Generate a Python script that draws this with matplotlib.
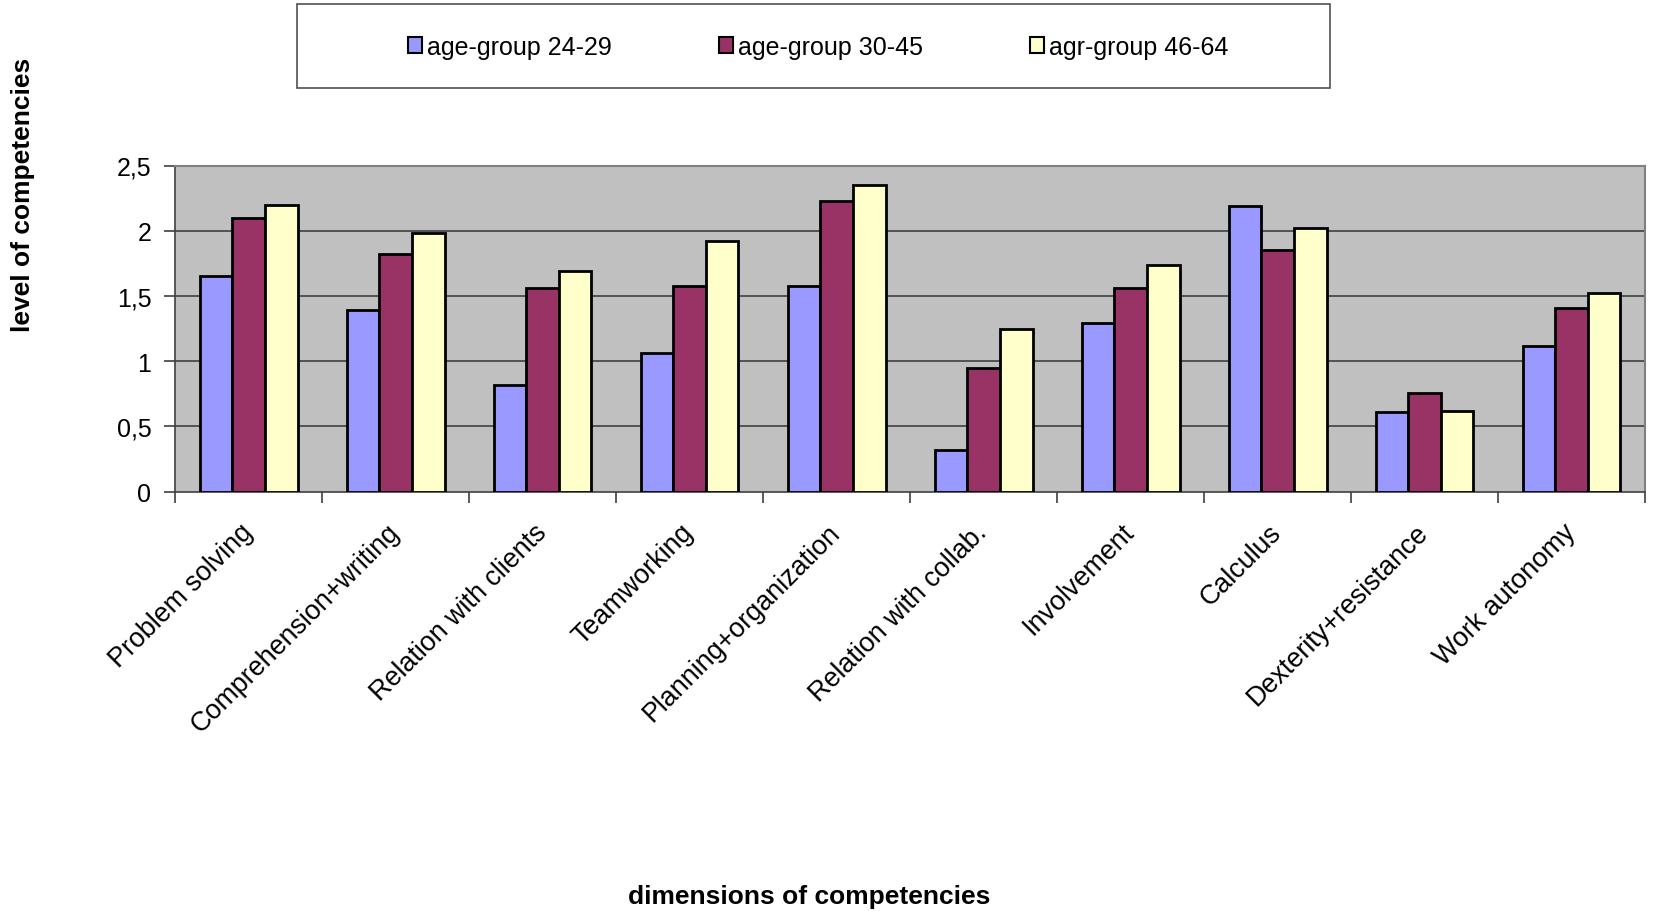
import matplotlib
matplotlib.use("Agg")
import matplotlib.pyplot as plt
from matplotlib.patches import Rectangle
from matplotlib.transforms import ScaledTranslation
import numpy as np

plt.rcParams['font.family'] = ['Liberation Sans', 'DejaVu Sans']

categories = ["Problem solving", "Comprehension+writing", "Relation with clients",
              "Teamworking", "Planning+organization", "Relation with collab.",
              "Involvement", "Calculus", "Dexterity+resistance", "Work autonomy"]
series_names = ["age-group 24-29", "age-group 30-45", "agr-group 46-64"]
age_24_29 = [1.65, 1.39, 0.82, 1.06, 1.58, 0.32, 1.29, 2.19, 0.61, 1.12]
age_30_45 = [2.10, 1.82, 1.56, 1.58, 2.23, 0.95, 1.56, 1.85, 0.76, 1.41]
age_46_64 = [2.20, 1.98, 1.69, 1.92, 2.35, 1.25, 1.74, 2.02, 0.62, 1.52]
y_ticks = [0, 0.5, 1, 1.5, 2, 2.5]
y_tick_labels = ["0", "0,5", "1", "1,5", "2", "2,5"]
colors = ["#9999FF", "#993366", "#FFFFCC"]

W, H = 1654, 912
fig = plt.figure(figsize=(W / 100, H / 100), dpi=100)
ax = fig.add_axes([175 / W, 1 - 492.7 / H, 1470 / W, 326.2 / H])
ax.set_facecolor("#C0C0C0")

x = np.arange(len(categories))
bw = 2 / 9
bars = []
for k, (vals, col) in enumerate(zip([age_24_29, age_30_45, age_46_64], colors)):
    b = ax.bar(x + (k - 1) * bw, vals, width=bw, color=col, edgecolor="black",
               linewidth=2.0, zorder=3, label=series_names[k])
    bars.append(b)

ax.set_xlim(-0.5, len(categories) - 0.5)
ax.set_ylim(0, 2.5)
ax.set_yticks(y_ticks)
ax.set_yticklabels(y_tick_labels, fontsize=18)
for yv in y_ticks[1:-1]:
    ax.axhline(yv, color="#404040", linewidth=1.2, zorder=1)

ax.set_xticks(x)
ax.set_xticklabels(categories, fontsize=19.4, rotation=45, ha="right",
                   va="center", rotation_mode="anchor")
shift = ScaledTranslation(4 / 100, 0, fig.dpi_scale_trans)
for lbl in ax.get_xticklabels():
    lbl.set_transform(lbl.get_transform() + shift)
ax.set_xticks(np.arange(len(categories) + 1) - 0.5, minor=True)
ax.tick_params(axis="x", which="major", length=0, pad=26)
ax.tick_params(axis="x", which="minor", length=8, width=1.2, color="#404040")
ax.tick_params(axis="y", length=8, width=1.2, color="#404040", pad=9)

for side in ["top", "right"]:
    ax.spines[side].set_color("#808080")
    ax.spines[side].set_linewidth(1.5)
for side in ["left", "bottom"]:
    ax.spines[side].set_color("#404040")
    ax.spines[side].set_linewidth(1.2)

# legend box
fig.patches.append(Rectangle((297 / W, 1 - 89 / H), 1033 / W, 84 / H,
                             transform=fig.transFigure, facecolor="white",
                             edgecolor="#505050", linewidth=1.2))
leg = fig.legend(handles=bars, labels=series_names, loc="center",
                 bbox_to_anchor=(818 / W, 1 - 47.5 / H), ncol=3,
                 frameon=False, fontsize=18, handlelength=0.55,
                 handleheight=0.6, handletextpad=0.2, columnspacing=4.3)
for h in leg.legend_handles:
    h.set_linewidth(1.5)

fig.text(23 / W, 1 - 195 / H, "level of competencies", rotation=90,
         ha="center", va="center", fontsize=19, fontweight="bold")
fig.text(809.6 / W, 1 - 896.6 / H, "dimensions of competencies",
         ha="center", va="center", fontsize=19, fontweight="bold")

fig.savefig("out.png", dpi=100, facecolor="white")
